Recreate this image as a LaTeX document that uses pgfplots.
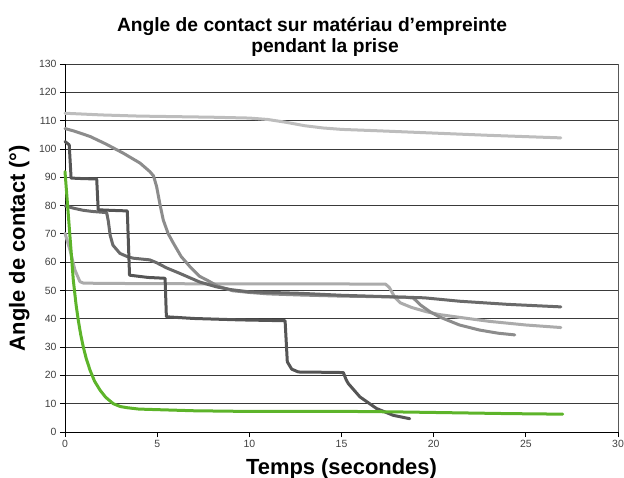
\documentclass[border=0pt]{standalone}
\usepackage{pgfplots}
\pgfplotsset{compat=1.18}
\usepackage{fontspec}
\setmainfont{Liberation Sans}
\definecolor{cA}{HTML}{BDBDBD}
\definecolor{cB}{HTML}{8C8C8C}
\definecolor{cC}{HTML}{6A6A6A}
\definecolor{cD}{HTML}{ABABAB}
\definecolor{cE}{HTML}{555555}
\definecolor{cG}{HTML}{5DB42A}
\definecolor{gridc}{HTML}{3A3A3A}
\definecolor{tickc}{HTML}{404040}
\begin{document}
\begin{tikzpicture}
\begin{axis}[
  at={(0,0)}, anchor=south west,
  scale only axis, width=553bp, height=368bp,
  xmin=0, xmax=30, ymin=0, ymax=130,
  xtick={0,5,...,30}, ytick={0,10,...,130},
  tick align=outside, major tick length=5bp,
  tick style={black, line width=0.7bp},
  ymajorgrids, grid style={gridc, line width=0.8bp},
  axis line style={line width=0.8bp},
  axis x line*=bottom, axis y line*=left,
  /pgf/number format/assume math mode=true,
  ticklabel style={font=\fontsize{10.5}{12}\selectfont, text=tickc},
  clip=false,
  every axis plot/.append style={line width=3bp, line join=round, line cap=round, no marks},
]
\draw[gray!70!black, line width=0.8bp] (rel axis cs:1,0) -- (rel axis cs:1,1);
% A
\addplot[cA] coordinates {(0,112.6) (1,112.3) (2,112) (3,111.8) (4,111.6) (6,111.4) (8,111.2) (10,110.9) (11,110.4) (12,109.4) (13,108.2) (14,107.4) (15,106.9) (17,106.4) (20,105.6) (23,104.8) (26.9,103.9)};
% D
\addplot[cD] coordinates {(0,70.2) (0.27,64.3) (0.54,57.2) (0.81,53.1) (1,52.6) (2,52.5) (5,52.4) (10,52.3) (15,52.3) (17.4,52.2) (17.6,51) (17.9,47.5) (18.2,45.6) (18.8,44) (19.6,42.5) (20.3,41.5) (21.4,40.5) (23,39.1) (25,37.8) (26.9,36.9)};
% B
\addplot[cB] coordinates {(0,107.2) (0.5,106.3) (1.36,104.4) (2.2,101.8) (3.16,98.5) (4.07,95) (4.6,92) (4.8,90.5) (4.97,86.7) (5.15,80.5) (5.33,74.9) (5.6,70) (5.88,66.7) (6.3,62) (6.78,58.4) (7.3,55) (7.69,53.7) (8.3,51.5) (9.1,49.9) (10,49.3) (11,48.8) (12.75,48.4) (15,48) (17,47.8) (18.5,47.6) (18.9,47.3) (19.3,44.8) (19.8,42.5) (20.3,40.7) (21.4,37.8) (22.5,36) (23.5,34.9) (24.4,34.3)};
% C
\addplot[cC] coordinates {(0,79.9) (0.5,79) (1,78.3) (1.5,77.9) (2.26,77.5) (2.35,74.5) (2.45,69.5) (2.6,66) (2.98,63.1) (3.4,61.9) (3.7,61.4) (4.6,60.8) (4.97,59.8) (5.5,58) (6.24,56) (7.3,53) (8.2,51.3) (9,50.3) (10,49.5) (12.75,49) (15,48.3) (17.5,47.8) (19.5,47.4) (21.4,46.2) (24,45.1) (26.9,44.2)};
% E
\addplot[cE] coordinates {(0,102.6) (0.23,101.4) (0.33,89.7) (1,89.5) (1.72,89.4) (1.8,78.5) (2.5,78.3) (3.38,78.1) (3.5,55.4) (4.5,54.6) (5.43,54.3) (5.5,40.7) (7,40.1) (9.5,39.6) (11.94,39.3) (12.06,24.8) (12.3,22.2) (12.66,21.2) (14,21.1) (15.1,21) (15.25,18.5) (15.37,17.1) (16,12.4) (16.9,8.3) (17.8,5.9) (18.7,4.7)};
% green
\addplot[cG] coordinates {(0,92) (0.2,75) (0.45,53.7) (0.6,45) (0.72,39.5) (0.85,34.5) (0.99,30.1) (1.15,26) (1.36,21.8) (1.6,18) (1.9,14.8) (2.2,12.3) (2.62,10) (3,9) (3.35,8.6) (4,8.1) (4.97,7.9) (7,7.5) (9.5,7.3) (12,7.3) (15,7.3) (18,7.1) (21,6.8) (24,6.5) (27,6.3)};
\end{axis}
\node[anchor=base, font=\fontsize{19.3}{21}\selectfont\bfseries] at (247bp,400bp) {Angle de contact sur matériau d’empreinte};
\node[anchor=base, font=\fontsize{19.3}{21}\selectfont\bfseries] at (260bp,379bp) {pendant la prise};
\node[anchor=base, font=\fontsize{22}{24}\selectfont\bfseries] at (276.5bp,-42bp) {Temps (secondes)};
\node[anchor=base, rotate=90, font=\fontsize{22}{24}\selectfont\bfseries] at (-40bp,184bp) {Angle de contact (°)};
\pgfresetboundingbox
\path (-65bp,-46bp) rectangle (559bp,432bp);
\end{tikzpicture}
\end{document}
